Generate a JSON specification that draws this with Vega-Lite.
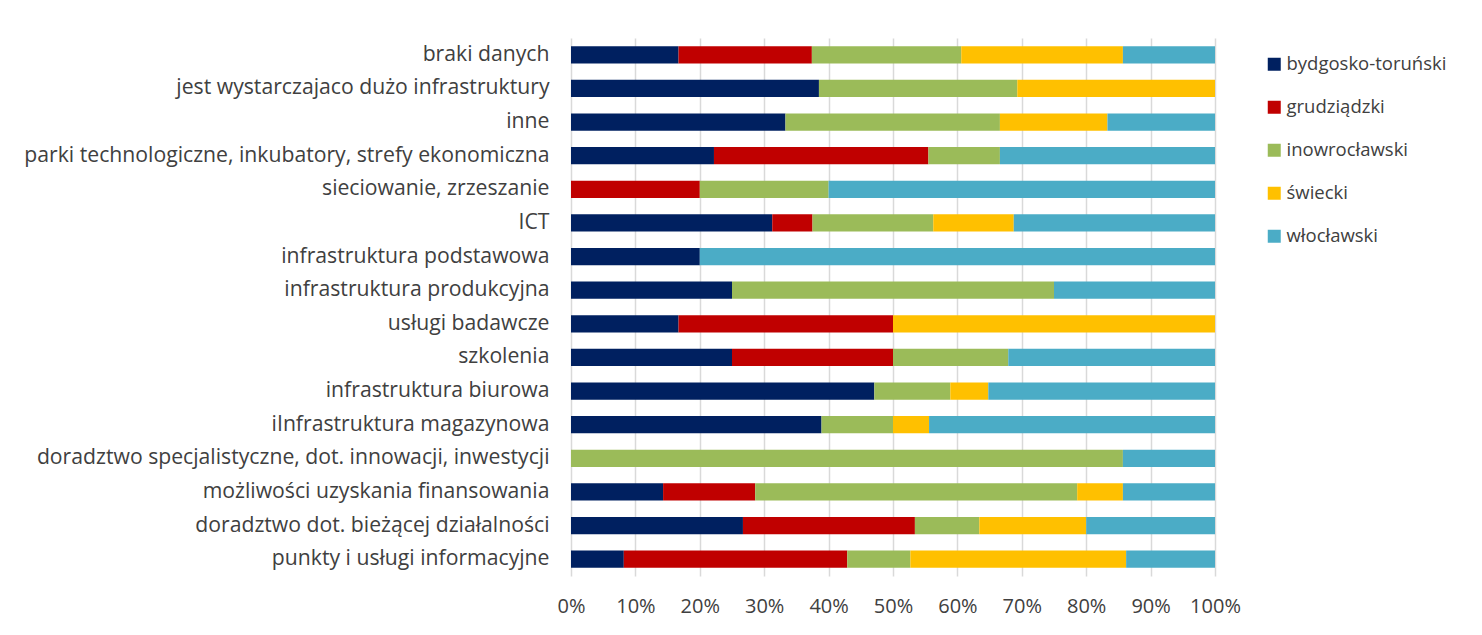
{
  "$schema": "https://vega.github.io/schema/vega-lite/v6.json",
  "autosize": "none",
  "width": 644,
  "height": 538,
  "padding": {"left": 571, "top": 38, "right": 267, "bottom": 59},
  "background": "white",
  "config": {
    "view": {"stroke": null},
    "font": "Open Sans",
    "axis": {"labelFont": "Open Sans", "labelColor": "#404040", "labelFontSize": 20},
    "legend": {"labelFont": "Open Sans", "labelColor": "#404040", "labelFontSize": 18.5}
  },
  "data": {
    "values": [
      {"k": "braki danych", "s": "bydgosko-toruński", "o": 1, "v": 16.7},
      {"k": "braki danych", "s": "grudziądzki", "o": 2, "v": 20.7},
      {"k": "braki danych", "s": "inowrocławski", "o": 3, "v": 23.2},
      {"k": "braki danych", "s": "świecki", "o": 4, "v": 25.1},
      {"k": "braki danych", "s": "włocławski", "o": 5, "v": 14.3},
      {"k": "jest wystarczajaco dużo infrastruktury", "s": "bydgosko-toruński", "o": 1, "v": 38.5},
      {"k": "jest wystarczajaco dużo infrastruktury", "s": "inowrocławski", "o": 3, "v": 30.8},
      {"k": "jest wystarczajaco dużo infrastruktury", "s": "świecki", "o": 4, "v": 30.7},
      {"k": "inne", "s": "bydgosko-toruński", "o": 1, "v": 33.3},
      {"k": "inne", "s": "inowrocławski", "o": 3, "v": 33.3},
      {"k": "inne", "s": "świecki", "o": 4, "v": 16.7},
      {"k": "inne", "s": "włocławski", "o": 5, "v": 16.7},
      {"k": "parki technologiczne, inkubatory, strefy  ekonomiczna", "s": "bydgosko-toruński", "o": 1, "v": 22.2},
      {"k": "parki technologiczne, inkubatory, strefy  ekonomiczna", "s": "grudziądzki", "o": 2, "v": 33.3},
      {"k": "parki technologiczne, inkubatory, strefy  ekonomiczna", "s": "inowrocławski", "o": 3, "v": 11.1},
      {"k": "parki technologiczne, inkubatory, strefy  ekonomiczna", "s": "włocławski", "o": 5, "v": 33.4},
      {"k": "sieciowanie, zrzeszanie", "s": "grudziądzki", "o": 2, "v": 20},
      {"k": "sieciowanie, zrzeszanie", "s": "inowrocławski", "o": 3, "v": 20},
      {"k": "sieciowanie, zrzeszanie", "s": "włocławski", "o": 5, "v": 60},
      {"k": "ICT", "s": "bydgosko-toruński", "o": 1, "v": 31.25},
      {"k": "ICT", "s": "grudziądzki", "o": 2, "v": 6.25},
      {"k": "ICT", "s": "inowrocławski", "o": 3, "v": 18.75},
      {"k": "ICT", "s": "świecki", "o": 4, "v": 12.5},
      {"k": "ICT", "s": "włocławski", "o": 5, "v": 31.25},
      {"k": "infrastruktura podstawowa", "s": "bydgosko-toruński", "o": 1, "v": 20},
      {"k": "infrastruktura podstawowa", "s": "włocławski", "o": 5, "v": 80},
      {"k": "infrastruktura produkcyjna", "s": "bydgosko-toruński", "o": 1, "v": 25},
      {"k": "infrastruktura produkcyjna", "s": "inowrocławski", "o": 3, "v": 50},
      {"k": "infrastruktura produkcyjna", "s": "włocławski", "o": 5, "v": 25},
      {"k": "usługi badawcze", "s": "bydgosko-toruński", "o": 1, "v": 16.7},
      {"k": "usługi badawcze", "s": "grudziądzki", "o": 2, "v": 33.3},
      {"k": "usługi badawcze", "s": "świecki", "o": 4, "v": 50},
      {"k": "szkolenia", "s": "bydgosko-toruński", "o": 1, "v": 25},
      {"k": "szkolenia", "s": "grudziądzki", "o": 2, "v": 25},
      {"k": "szkolenia", "s": "inowrocławski", "o": 3, "v": 17.9},
      {"k": "szkolenia", "s": "włocławski", "o": 5, "v": 32.1},
      {"k": "infrastruktura biurowa", "s": "bydgosko-toruński", "o": 1, "v": 47.1},
      {"k": "infrastruktura biurowa", "s": "inowrocławski", "o": 3, "v": 11.8},
      {"k": "infrastruktura biurowa", "s": "świecki", "o": 4, "v": 5.9},
      {"k": "infrastruktura biurowa", "s": "włocławski", "o": 5, "v": 35.2},
      {"k": "iInfrastruktura magazynowa", "s": "bydgosko-toruński", "o": 1, "v": 38.9},
      {"k": "iInfrastruktura magazynowa", "s": "inowrocławski", "o": 3, "v": 11.1},
      {"k": "iInfrastruktura magazynowa", "s": "świecki", "o": 4, "v": 5.6},
      {"k": "iInfrastruktura magazynowa", "s": "włocławski", "o": 5, "v": 44.4},
      {"k": "doradztwo specjalistyczne, dot. innowacji, inwestycji", "s": "inowrocławski", "o": 3, "v": 85.7},
      {"k": "doradztwo specjalistyczne, dot. innowacji, inwestycji", "s": "włocławski", "o": 5, "v": 14.3},
      {"k": "możliwości uzyskania finansowania", "s": "bydgosko-toruński", "o": 1, "v": 14.3},
      {"k": "możliwości uzyskania finansowania", "s": "grudziądzki", "o": 2, "v": 14.3},
      {"k": "możliwości uzyskania finansowania", "s": "inowrocławski", "o": 3, "v": 50},
      {"k": "możliwości uzyskania finansowania", "s": "świecki", "o": 4, "v": 7.1},
      {"k": "możliwości uzyskania finansowania", "s": "włocławski", "o": 5, "v": 14.3},
      {"k": "doradztwo dot. bieżącej działalności", "s": "bydgosko-toruński", "o": 1, "v": 26.7},
      {"k": "doradztwo dot. bieżącej działalności", "s": "grudziądzki", "o": 2, "v": 26.7},
      {"k": "doradztwo dot. bieżącej działalności", "s": "inowrocławski", "o": 3, "v": 10},
      {"k": "doradztwo dot. bieżącej działalności", "s": "świecki", "o": 4, "v": 16.6},
      {"k": "doradztwo dot. bieżącej działalności", "s": "włocławski", "o": 5, "v": 20},
      {"k": "punkty i usługi informacyjne", "s": "bydgosko-toruński", "o": 1, "v": 8.2},
      {"k": "punkty i usługi informacyjne", "s": "grudziądzki", "o": 2, "v": 34.7},
      {"k": "punkty i usługi informacyjne", "s": "inowrocławski", "o": 3, "v": 9.8},
      {"k": "punkty i usługi informacyjne", "s": "świecki", "o": 4, "v": 33.5},
      {"k": "punkty i usługi informacyjne", "s": "włocławski", "o": 5, "v": 13.8}
    ]
  },
  "mark": {"type": "bar"},
  "encoding": {
    "y": {
      "field": "k",
      "type": "nominal",
      "sort": null,
      "scale": {"paddingInner": 0.49, "paddingOuter": 0.245},
      "axis": {"title": null, "ticks": false, "domain": false, "labelPadding": 22, "labelLimit": 700, "labelFontSize": 21.2}
    },
    "x": {
      "field": "v",
      "type": "quantitative",
      "stack": "normalize",
      "axis": {
        "title": null,
        "format": ".0%",
        "values": [0, 0.1, 0.2, 0.3, 0.4, 0.5, 0.6, 0.7, 0.8, 0.9, 1],
        "ticks": false,
        "domain": false,
        "labelPadding": 20,
        "labelFlush": false,
        "labelOverlap": false,
        "grid": true,
        "gridColor": "#d9d9d9",
        "gridWidth": 1.5
      }
    },
    "color": {
      "field": "s",
      "type": "nominal",
      "scale": {
        "domain": ["bydgosko-toruński", "grudziądzki", "inowrocławski", "świecki", "włocławski"],
        "range": ["#002060", "#C00000", "#9BBB59", "#FFC000", "#4BACC6"]
      },
      "legend": {
        "title": null,
        "orient": "none",
        "legendX": 694,
        "legendY": 17,
        "symbolType": "square",
        "symbolSize": 169,
        "symbolStrokeWidth": 0,
        "labelOffset": 3,
        "rowPadding": 24
      }
    },
    "order": {"field": "o", "type": "quantitative"}
  }
}
